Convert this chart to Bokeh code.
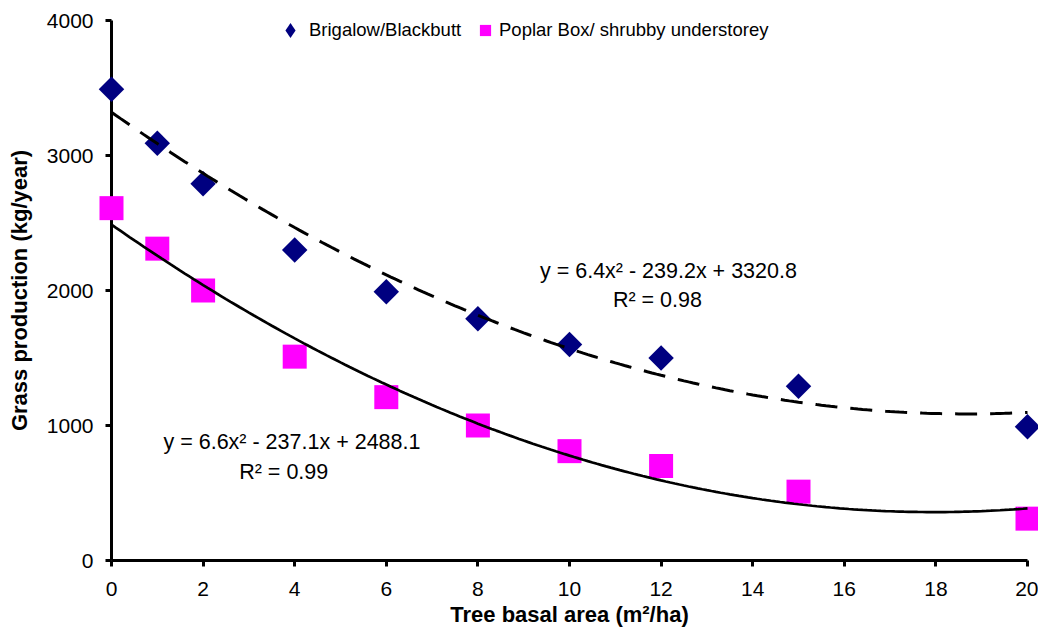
import numpy as np
from bokeh.plotting import figure
from bokeh.models import Range1d, Legend, LegendItem, Label, FixedTicker, ColumnDataSource
from bokeh.embed import file_html
from bokeh.resources import INLINE

# ---- data ----
basal_area = [0, 1, 2, 4, 6, 8, 10, 12, 15, 20]
brigalow = [3490, 3090, 2790, 2300, 1990, 1790, 1600, 1500, 1290, 990]
poplar = [2610, 2310, 2000, 1510, 1210, 1000, 810, 700, 510, 310]
brigalow_fit = [6.4, -239.2, 3320.8]   # quadratic trendline coefficients
poplar_fit = [6.6, -237.1, 2488.1]
x_ticks = [0, 2, 4, 6, 8, 10, 12, 14, 16, 18, 20]
y_ticks = [0, 1000, 2000, 3000, 4000]
series_names = ["Brigalow/Blackbutt", "Poplar Box/ shrubby understorey"]
eq_texts = ["y = 6.4x\u00b2 - 239.2x + 3320.8", "R\u00b2 = 0.98",
            "y = 6.6x\u00b2 - 237.1x + 2488.1", "R\u00b2 = 0.99"]

NAVY = "#000080"
MAGENTA = "#FF00FF"
FONT = "Liberation Sans"

src = ColumnDataSource(dict(x=basal_area, b=brigalow, p=poplar))
xs = np.linspace(0, 20, 201)
fit_src = ColumnDataSource(dict(x=xs, b=np.polyval(brigalow_fit, xs), p=np.polyval(poplar_fit, xs)))

p = figure(frame_width=916, frame_height=540, output_backend="svg", toolbar_location=None,
           x_range=Range1d(0, 20), y_range=Range1d(0, 4000))
p.min_border_left = 111
p.min_border_right = 11
p.min_border_top = 20
p.min_border_bottom = 60
p.outline_line_color = None
p.xgrid.grid_line_color = None
p.ygrid.grid_line_color = None
p.background_fill_color = "white"
p.border_fill_color = "white"

# markers (drawn unclipped, over the axes)
r_b = p.scatter("x", "b", source=src, marker="square", size=18, angle=np.pi / 4,
                fill_color=NAVY, line_color=None, level="annotation")
r_p = p.scatter("x", "p", source=src, marker="square", size=24,
                fill_color=MAGENTA, line_color=None, level="annotation")

# trendlines
p.line("x", "b", source=fit_src, line_color="black", line_width=3, line_dash="22 13",
       level="annotation")
p.line("x", "p", source=fit_src, line_color="black", line_width=2.7, level="annotation")

# legend-only renderers
lg_b = p.scatter("x", "b", source=src, marker="diamond", fill_color=NAVY, line_color=None, visible=False)
lg_p = p.scatter("x", "p", source=src, marker="square", fill_color=MAGENTA, line_color=None, visible=False)

leg1 = Legend(items=[LegendItem(label=series_names[0], renderers=[lg_b])],
              location=(160, 511), glyph_width=38, glyph_height=38, label_standoff=-7,
              padding=0, margin=0, spacing=0, border_line_color=None, background_fill_alpha=0,
              label_text_font=FONT, label_text_font_size="18.5px", label_text_color="black")
leg2 = Legend(items=[LegendItem(label=series_names[1], renderers=[lg_p])],
              location=(360, 516), glyph_width=28, glyph_height=28, label_standoff=0,
              padding=0, margin=0, spacing=0, border_line_color=None, background_fill_alpha=0,
              label_text_font=FONT, label_text_font_size="18.5px", label_text_color="black")
p.add_layout(leg1)
p.add_layout(leg2)

# equation labels
for (tx, ty, t) in [(12.16, 2148, eq_texts[0]), (11.92, 1926, eq_texts[1]),
                    (3.94, 881, eq_texts[2]), (3.76, 652, eq_texts[3])]:
    p.add_layout(Label(x=tx, y=ty, text=t, text_align="center", text_baseline="middle",
                       text_font=FONT, text_font_size="21.5px", text_color="black"))

# axes
for ax in (p.xaxis[0], p.yaxis[0]):
    ax.axis_line_width = 3
    ax.axis_line_color = "black"
    ax.major_tick_line_width = 3
    ax.major_tick_line_color = "black"
    ax.major_tick_out = 6
    ax.major_tick_in = 0
    ax.minor_tick_out = 0
    ax.minor_tick_in = 0
    ax.major_label_text_font = FONT
    ax.major_label_text_font_size = "21px"
    ax.major_label_text_color = "black"
    ax.axis_label_text_font = FONT
    ax.axis_label_text_font_size = "22px"
    ax.axis_label_text_font_style = "bold"
    ax.axis_label_text_color = "black"

p.xaxis.ticker = FixedTicker(ticks=x_ticks)
p.yaxis.ticker = FixedTicker(ticks=y_ticks)
p.xaxis.axis_label = "Tree basal area (m\u00b2/ha)"
p.yaxis.axis_label = "Grass production (kg/year)"
p.xaxis.major_label_standoff = 15
p.xaxis.axis_label_standoff = 3
p.yaxis.major_label_standoff = 12
p.yaxis.axis_label_standoff = 12

open("out.html", "w").write(file_html(p, INLINE))
